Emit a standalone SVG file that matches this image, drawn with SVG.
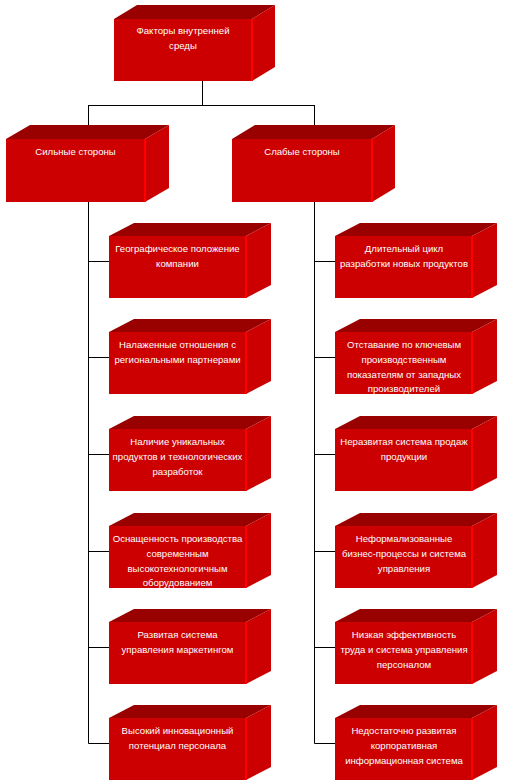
<svg xmlns="http://www.w3.org/2000/svg" xmlns:xlink="http://www.w3.org/1999/xlink" width="513" height="783" viewBox="0 0 513 783">
<style>
.front{fill:#CC0000}
.top{fill:#990000}
.side{fill:#CC0000}
.edge{stroke:#FF0000;stroke-width:2;fill:none}
.t{fill:#FFFFFF;font-family:"Liberation Sans",Arial,sans-serif;font-size:9.6px;text-anchor:middle}
.conn{stroke:#000000;stroke-width:1;fill:none}
</style>
<defs>
<g id="cube">
<polygon class="top" points="0,0 25,-13 162,-13 137,0"/>
<polygon class="side" points="137,0 162,-13 162,49 137,62"/>
<rect class="front" x="0" y="0" width="137" height="62"/>
<line class="edge" x1="137" y1="0" x2="137" y2="62"/>
</g>
</defs>
<rect width="513" height="783" fill="#FFFFFF"/>
<g id="connectors">
<path class="conn" d="M202.5,81 V105.5 M88.5,105.5 H314.5 M88.5,105 V126 M314.5,105 V126"/>
<path class="conn" d="M88.5,202 V743.5 H109 M88.5,261.5 H109 M88.5,357.5 H109 M88.5,454.5 H109 M88.5,551.5 H109 M88.5,647.5 H109"/>
<path class="conn" d="M314.5,202 V743.5 H335 M314.5,261.5 H335 M314.5,357.5 H335 M314.5,454.5 H335 M314.5,551.5 H335 M314.5,647.5 H335"/>
</g>
<g id="root">
<polygon class="top" points="114,19 137,5 275,5 252,19"/>
<polygon class="side" points="252,19 275,5 275,67 252,81"/>
<rect class="front" x="114" y="19" width="138" height="62"/>
<line class="edge" x1="252" y1="19" x2="252" y2="81"/>
<text class="t" x="183" y="34">Факторы внутренней</text>
<text class="t" x="183" y="49">среды</text>
</g>
<g id="strengths">
<polygon class="top" points="6,139 30,125 169,125 145,139"/>
<polygon class="side" points="145,139 169,125 169,188 145,202"/>
<rect class="front" x="6" y="139" width="139" height="63"/>
<line class="edge" x1="145" y1="139" x2="145" y2="202"/>
<text class="t" x="75.5" y="155">Сильные стороны</text>
</g>
<g id="weaknesses">
<polygon class="top" points="232,139 255,125 395,125 372,139"/>
<polygon class="side" points="372,139 395,125 395,188 372,202"/>
<rect class="front" x="232" y="139" width="140" height="63"/>
<line class="edge" x1="372" y1="139" x2="372" y2="202"/>
<text class="t" x="302" y="155">Слабые стороны</text>
</g>
<g id="s1" transform="translate(109,236)">
<use xlink:href="#cube"/>
<text class="t" x="68.5" y="15.5">Географическое положение</text>
<text class="t" x="68.5" y="30.5">компании</text>
</g>
<g id="s2" transform="translate(109,332)">
<use xlink:href="#cube"/>
<text class="t" x="68.5" y="15.5">Налаженные отношения с</text>
<text class="t" x="68.5" y="30.5">региональными партнерами</text>
</g>
<g id="s3" transform="translate(109,429)">
<use xlink:href="#cube"/>
<text class="t" x="68.5" y="15.5">Наличие уникальных</text>
<text class="t" x="68.5" y="30.5">продуктов и технологических</text>
<text class="t" x="68.5" y="45.5">разработок</text>
</g>
<g id="s4" transform="translate(109,526)">
<use xlink:href="#cube"/>
<text class="t" x="68.5" y="15.5">Оснащенность производства</text>
<text class="t" x="68.5" y="30.5">современным</text>
<text class="t" x="68.5" y="45.5">высокотехнологичным</text>
<text class="t" x="68.5" y="60">оборудованием</text>
</g>
<g id="s5" transform="translate(109,622)">
<use xlink:href="#cube"/>
<text class="t" x="68.5" y="15.5">Развитая система</text>
<text class="t" x="68.5" y="30.5">управления маркетингом</text>
</g>
<g id="s6" transform="translate(109,718)">
<use xlink:href="#cube"/>
<text class="t" x="68.5" y="15.5">Высокий инновационный</text>
<text class="t" x="68.5" y="30.5">потенциал персонала</text>
</g>
<g id="w1" transform="translate(335,236)">
<use xlink:href="#cube"/>
<text class="t" x="69" y="15.5">Длительный цикл</text>
<text class="t" x="69" y="30.5">разработки новых продуктов</text>
</g>
<g id="w2" transform="translate(335,332)">
<use xlink:href="#cube"/>
<text class="t" x="69" y="15.5">Отставание по ключевым</text>
<text class="t" x="69" y="30.5">производственным</text>
<text class="t" x="69" y="45.5">показателям от западных</text>
<text class="t" x="69" y="60">производителей</text>
</g>
<g id="w3" transform="translate(335,429)">
<use xlink:href="#cube"/>
<text class="t" x="69" y="15.5">Неразвитая система продаж</text>
<text class="t" x="69" y="30.5">продукции</text>
</g>
<g id="w4" transform="translate(335,526)">
<use xlink:href="#cube"/>
<text class="t" x="69" y="15.5">Неформализованные</text>
<text class="t" x="69" y="30.5">бизнес-процессы и система</text>
<text class="t" x="69" y="45.5">управления</text>
</g>
<g id="w5" transform="translate(335,622)">
<use xlink:href="#cube"/>
<text class="t" x="69" y="15.5">Низкая эффективность</text>
<text class="t" x="69" y="30.5">труда и система управления</text>
<text class="t" x="69" y="45.5">персоналом</text>
</g>
<g id="w6" transform="translate(335,718)">
<use xlink:href="#cube"/>
<text class="t" x="69" y="15.5">Недостаточно развитая</text>
<text class="t" x="69" y="30.5">корпоративная</text>
<text class="t" x="69" y="45.5">информационная система</text>
</g>
</svg>
